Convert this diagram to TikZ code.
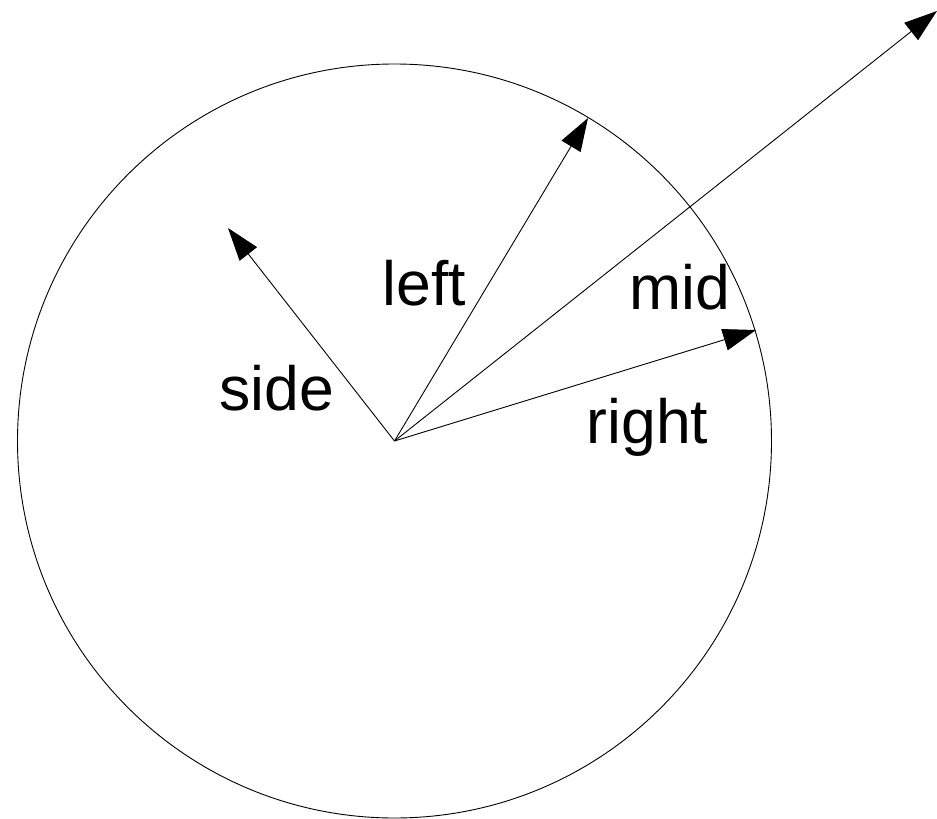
\documentclass[tikz,border=0pt]{standalone}
\usepackage{fontspec}
\setmainfont{Liberation Sans}
\usetikzlibrary{arrows.meta}
\begin{document}
\begin{tikzpicture}[x=1pt,y=-1pt,
  vec/.style={line width=0.9pt,-{Triangle[length=33pt,width=22pt]}},
  lbl/.style={font=\fontsize{62.5}{62.5}\selectfont,anchor=base,inner sep=0pt}]
\useasboundingbox (0,0) rectangle (937,819);
\coordinate (o) at (394.5,441);
\draw[line width=0.9pt] (o) circle[radius=377];
\coordinate (ts) at (228,228);
\coordinate (tl) at (588,118);
\coordinate (tm) at (937,11);
\coordinate (tr) at (756,330);
\draw[vec] (o) -- (ts);
\draw[vec] (o) -- (tl);
\draw[vec] (o) -- (tm);
\draw[vec] (o) -- (tr);
\node[lbl] (side) at (276.5,410) {side};
\node[lbl] (left) at (424.5,305) {left};
\node[lbl] (mid) at (680,309) {mid};
\node[lbl] (right) at (647.5,443) {right};
\end{tikzpicture}
\end{document}
